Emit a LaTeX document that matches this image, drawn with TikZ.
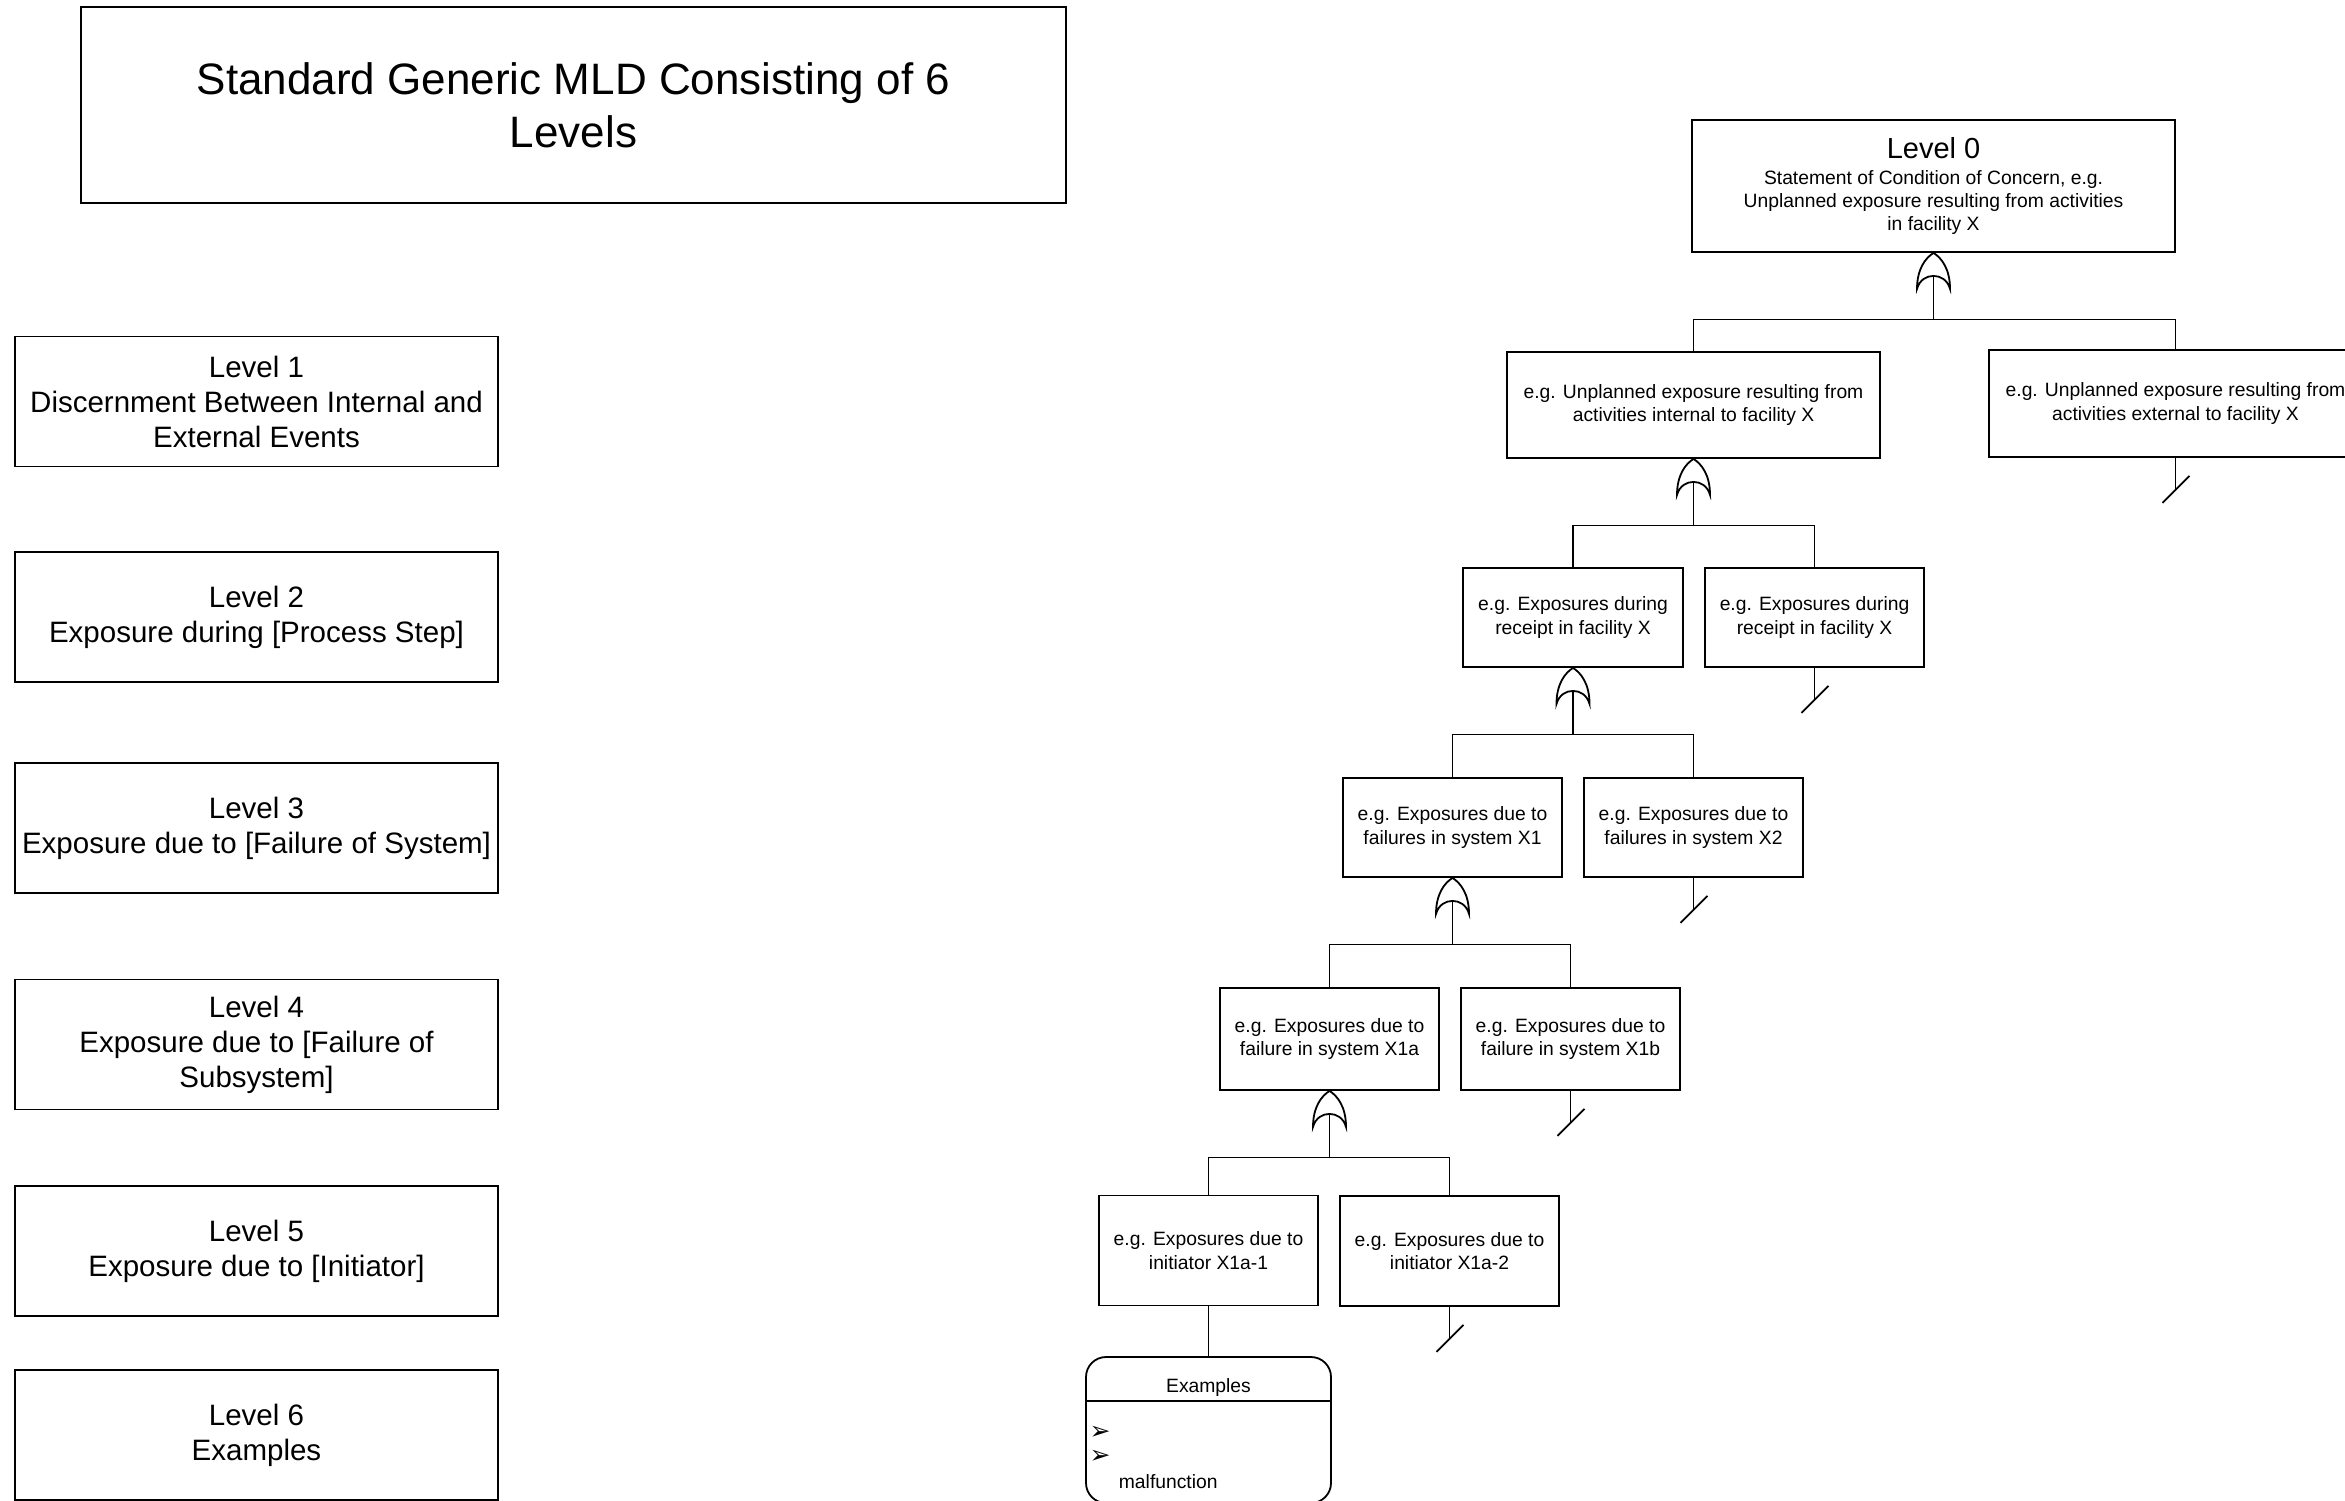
\documentclass[tikz,border=0pt]{standalone}
\usepackage{fontspec}
\setmainfont{Liberation Sans}
\newfontfamily\dingfont{DejaVu Sans}
\usetikzlibrary{calc}
\begin{document}
\begin{tikzpicture}[x=1pt,y=-1pt,line width=1.8pt,
  titlebox/.style={draw,inner sep=0pt,align=center,minimum width=985,minimum height=196,
    font=\fontsize{44}{52.6}\selectfont},
  lvbox/.style={draw,inner sep=0pt,align=center,minimum width=483,minimum height=130,
    font=\fontsize{29.5}{35}\selectfont},
  evbox/.style={draw,inner sep=0pt,align=center,font=\fontsize{19.3}{23.2}\selectfont},
  small/.style={inner sep=0pt,font=\fontsize{19.3}{23.2}\selectfont},
  bullet/.style={inner sep=0pt,font=\dingfont\fontsize{25}{25}\selectfont},
  orgate/.pic={\draw (0,0) .. controls (8,5) and (16.5,16) .. (16.5,36)
      .. controls (14,27) and (7,23) .. (0,23)
      .. controls (-7,23) and (-14,27) .. (-16.5,36)
      .. controls (-16.5,16) and (-8,5) .. (0,0);}]
\useasboundingbox (0,0) rectangle (2345,1500);
\clip (0,0) rectangle (2345,1500);

% title
\node[titlebox] (title) at (573.5,105) {Standard Generic MLD Consisting of 6\\Levels};

% level legend
\node[lvbox] (lv1) at (256.5,401.5) {Level 1\\Discernment Between Internal and\\External Events};
\node[lvbox] (lv2) at (256.5,617) {Level 2\\Exposure during [Process Step]};
\node[lvbox] (lv3) at (256.5,828) {Level 3\\Exposure due to [Failure of System]};
\node[lvbox] (lv4) at (256.5,1044.5) {Level 4\\Exposure due to [Failure of\\Subsystem]};
\node[lvbox] (lv5) at (256.5,1251) {Level 5\\Exposure due to [Initiator]};
\node[lvbox] (lv6) at (256.5,1435) {Level 6\\Examples};

% top event
\node[evbox,minimum width=483,minimum height=132] (l0) at (1933.5,186)
  {{\fontsize{29}{29}\selectfont Level 0}\\[3.3pt]Statement of Condition of Concern, e.g.\\Unplanned exposure resulting from activities\\in facility X};

% level 1
\node[evbox,minimum width=373,minimum height=106] (l1a) at (1693.5,405)
  {e.g. Unplanned exposure resulting from\\activities internal to facility X};
\node[evbox,minimum width=373,minimum height=107] (l1b) at (2175.5,403.5)
  {e.g. Unplanned exposure resulting from\\activities external to facility X};

% level 2
\node[evbox,minimum width=220,minimum height=99] (l2a) at (1573,617.5)
  {e.g. Exposures during\\receipt in facility X};
\node[evbox,minimum width=219,minimum height=99] (l2b) at (1814.5,617.5)
  {e.g. Exposures during\\receipt in facility X};

% level 3
\node[evbox,minimum width=219,minimum height=99] (l3a) at (1452.5,827.5)
  {e.g. Exposures due to\\failures in system X1};
\node[evbox,minimum width=219,minimum height=99] (l3b) at (1693.5,827.5)
  {e.g. Exposures due to\\failures in system X2};

% level 4
\node[evbox,minimum width=219,minimum height=102] (l4a) at (1329.5,1039)
  {e.g. Exposures due to\\failure in system X1a};
\node[evbox,minimum width=219,minimum height=102] (l4b) at (1570.5,1039)
  {e.g. Exposures due to\\failure in system X1b};

% level 5
\node[evbox,minimum width=219,minimum height=110] (l5a) at (1208.5,1250.5)
  {e.g. Exposures due to\\initiator X1a-1};
\node[evbox,minimum width=219,minimum height=110] (l5b) at (1449.5,1251)
  {e.g. Exposures due to\\initiator X1a-2};

% examples card
\node[draw,rounded corners=20pt,minimum width=245,minimum height=146,inner sep=0pt] (ex) at (1208.5,1430) {};
\draw (ex.west |- 0,1401) -- (ex.east |- 0,1401);
\node[small] (exhead) at (1208.5,1387) {Examples};
\node[bullet] (ar1) at (1100,1433) {➢};
\node[bullet] (ar2) at (1100,1457) {➢};
\node[small,anchor=west] (mal) at (1118,1482) {malfunction};
\draw (l5a.south) -- (ex.north);

% OR gates and branching bars
\foreach \p/\a/\b in {l0/l1a/l1b, l1a/l2a/l2b, l2a/l3a/l3b, l3a/l4a/l4b, l4a/l5a/l5b}{
  \pic at (\p.south) {orgate};
  \coordinate (\p g) at ($(\p.south)+(0,23)$);
  \coordinate (\p j) at ($(\p.south)+(0,66.5)$);
  \draw (\p g) -- (\p j);
  \draw (\a.north) |- (\p j) -| (\b.north);
}

% undeveloped branches
\foreach \n in {l1b,l2b,l3b,l4b,l5b}{
  \coordinate (\n c) at ($(\n.south)+(0,32)$);
  \draw (\n.south) -- (\n c);
  \draw ($(\n c)+(-13,13)$) -- ($(\n c)+(14,-14)$);
}
\end{tikzpicture}
\end{document}
